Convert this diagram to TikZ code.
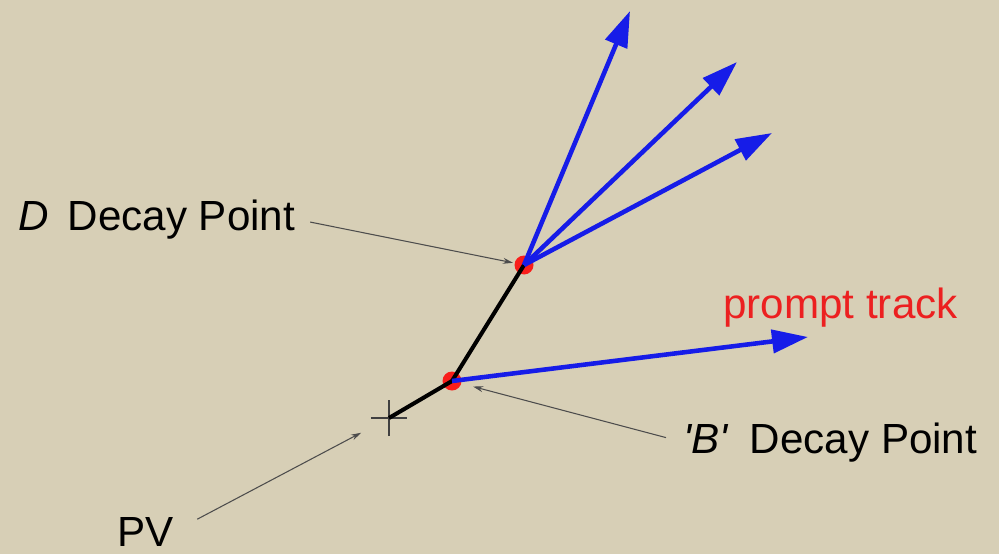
\documentclass[tikz,border=0pt]{standalone}
\usepackage{fontspec}
\setmainfont{Liberation Sans}
\usetikzlibrary{arrows.meta, shapes.misc}

\definecolor{paper}{RGB}{215,207,182}
\definecolor{trackblue}{RGB}{22,28,232}
\definecolor{labelred}{RGB}{236,32,32}

\begin{document}
\begin{tikzpicture}[
    x=0.02cm, y=-0.02cm,
    font=\fontsize{24}{28}\selectfont,
    vtx/.style={circle, fill=red, opacity=.85, inner sep=0pt,
                minimum size=0.38cm, outer sep=1pt},
    pvmark/.style={cross out, draw=black!75, line width=0.9pt, rotate=45,
                   minimum size=0.48cm, inner sep=0pt},
    lbl/.style={inner sep=0pt, anchor=base west},
    flight/.style={black, line width=2.3pt},
    track/.style={trackblue, line width=2.6pt,
                  -{Triangle[length=0.72cm, width=0.46cm]}},
    pointer/.style={black!70, line width=0.6pt,
                    -{Stealth[length=0.2cm, width=0.12cm]}},
]

    %==================== paper ====================
    \fill[paper] (0,0) rectangle (999,554);

    %==================== vertices ====================
    \node[pvmark] (pv) at (389,418) {};
    \node[vtx] (bvtx) at (452,381) {};
    \node[vtx] (dvtx) at (524,265) {};

    % flight path PV -> B -> D
    \draw[flight] (pv.center) -- (bvtx.center) -- (dvtx.center);

    %==================== tracks ====================
    \coordinate (d1) at (630,11);
    \coordinate (d2) at (737,62);
    \coordinate (d3) at (772,133);
    \coordinate (prompt) at (808,337);

    \draw[track] (dvtx.center) -- (d1);
    \draw[track] (dvtx.center) -- (d2);
    \draw[track] (dvtx.center) -- (d3);
    \draw[track] (bvtx.center) -- (prompt);

    %==================== labels ====================
    \node[lbl] (dlabel) at (18,230) {\textit{D}\hspace{0.45em}Decay Point};
    \node[lbl] (blabel) at (683,453)
        {\textit{\textquotesingle B\textquotesingle}\hspace{0.5em}Decay Point};
    \node[lbl] (pvlabel) at (117,546) {PV};
    \node[lbl, text=labelred] (ptlabel) at (723,318) {prompt track};

    \draw[pointer, shorten <=8.5pt] (dlabel.east) -- (dvtx);
    \draw[pointer, shorten <=10pt, shorten >=6pt] (blabel.west) -- (bvtx);
    \draw[pointer, shorten <=15pt, shorten >=18pt] (pvlabel.east) -- (pv.center);

\end{tikzpicture}
\end{document}
